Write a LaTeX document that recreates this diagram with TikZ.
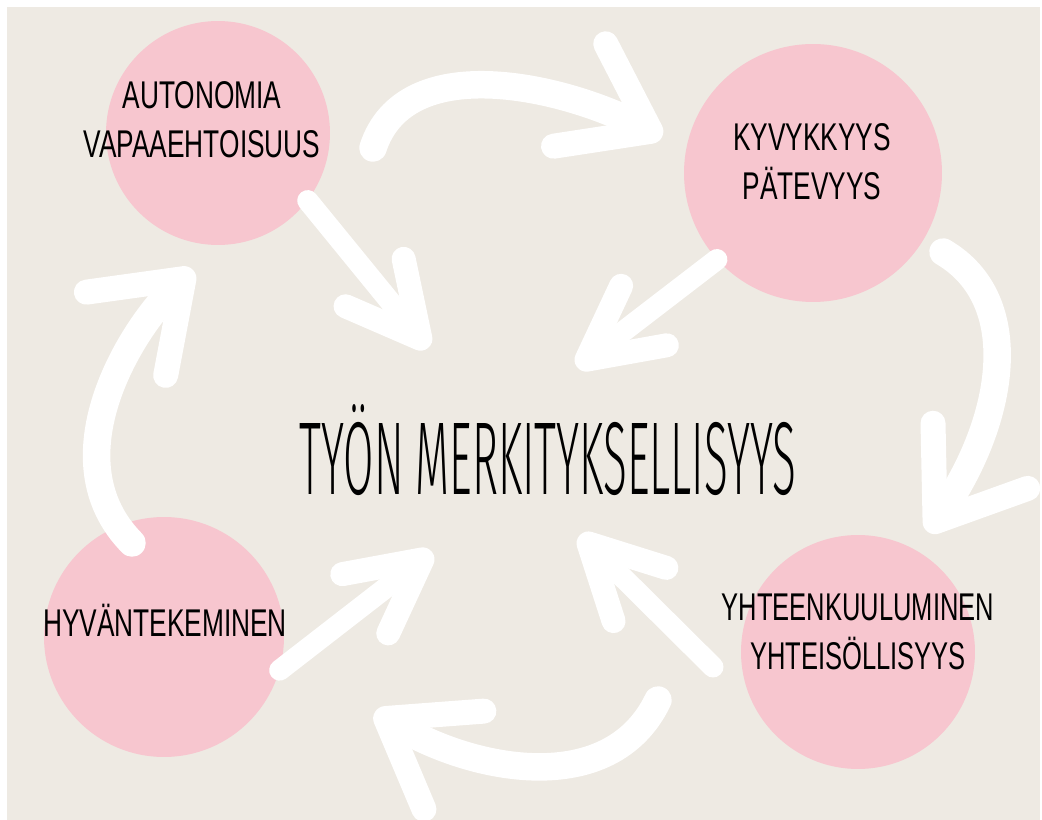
\documentclass[tikz,border=0pt]{standalone}
\usepackage{fontspec}
\setmainfont{Liberation Sans}
\newfontfamily\thinfont{Fira Sans Light}
\usepackage{graphicx}
\usepackage{xcolor}
\usetikzlibrary{arrows.meta}

\definecolor{sand}{RGB}{238,234,227}
\definecolor{rose}{RGB}{247,198,207}
\newcommand{\narrow}[2]{\scalebox{#1}[1]{\begin{tabular}{@{}c@{}}#2\end{tabular}}}

\begin{document}
\begin{tikzpicture}[x=0.02cm, y=-0.02cm,
	bubble/.style = {circle, fill=rose, inner sep=0pt},
	word/.style = {inner sep=0pt, font=\fontsize{22}{28}\selectfont},
	swing/.style = {white, line width=0.55cm, line cap=round, -{Straight Barb[length=1.6cm, width=2.3cm, line width=0.5cm, round]}},
	dart/.style = {white, line width=0.42cm, line cap=round, -{Straight Barb[length=1.45cm, width=1.5cm, line width=0.48cm, round]}}]
	\useasboundingbox (0,0) rectangle (1042,820);
	\fill[white] (0,0) rectangle (1042,820);
	\fill[sand] (7,7) rectangle (1040,820);

	\node[bubble, minimum size=4.48cm] (1) at (218,133) {};
	\node[bubble, minimum size=5.16cm] (2) at (813,173) {};
	\node[bubble, minimum size=4.8cm] (3) at (164,637) {};
	\node[bubble, minimum size=4.68cm] (4) at (858,652) {};

	\coordinate (s12) at (373,148);
	\coordinate (e12) at (662,137);
	\coordinate (s24) at (943,252);
	\coordinate (e24) at (928,532);
	\coordinate (s43) at (658,700);
	\coordinate (e43) at (375,712);
	\coordinate (s31) at (132,543);
	\coordinate (e31) at (193,270);
	\coordinate (p1) at (428,348);
	\coordinate (p2) at (577,367);
	\coordinate (p3) at (432,552);
	\coordinate (p4) at (580,535);
	\coordinate (q4) at (713,667);

	% round the circle
	\draw[swing] (s12) .. controls (405,50) and (560,85) .. (e12);
	\draw[swing] (s24) .. controls (1025,300) and (1005,420) .. (e24);
	\draw[swing] (s43) .. controls (610,800) and (470,770) .. (e43);
	\draw[swing] (s31) .. controls (50,460) and (130,330) .. (e31);

	% into the middle
	\draw[dart] (1.-37) -- (p1);
	\draw[dart] (2.222) -- (p2);
	\draw[dart] (3.-16) -- (p3);
	\draw[dart] (q4) -- (p4);

	\node[word] (t1) at (202,123) {\narrow{0.68}{AUTONOMIA\\VAPAAEHTOISUUS}};
	\node[word] (t2) at (812,165) {\narrow{0.68}{KYVYKKYYS\\PÄTEVYYS}};
	\node[word] (t3) at (165,627) {\narrow{0.68}{HYVÄNTEKEMINEN}};
	\node[word] (t4) at (858,635) {\narrow{0.66}{YHTEENKUULUMINEN\\YHTEISÖLLISYYS}};
	\node[inner sep=0pt, anchor=base] (0) at (548,495) {\scalebox{0.425}[1]{\thinfont\fontsize{59}{59}\selectfont TYÖN MERKITYKSELLISYYS}};
\end{tikzpicture}
\end{document}
